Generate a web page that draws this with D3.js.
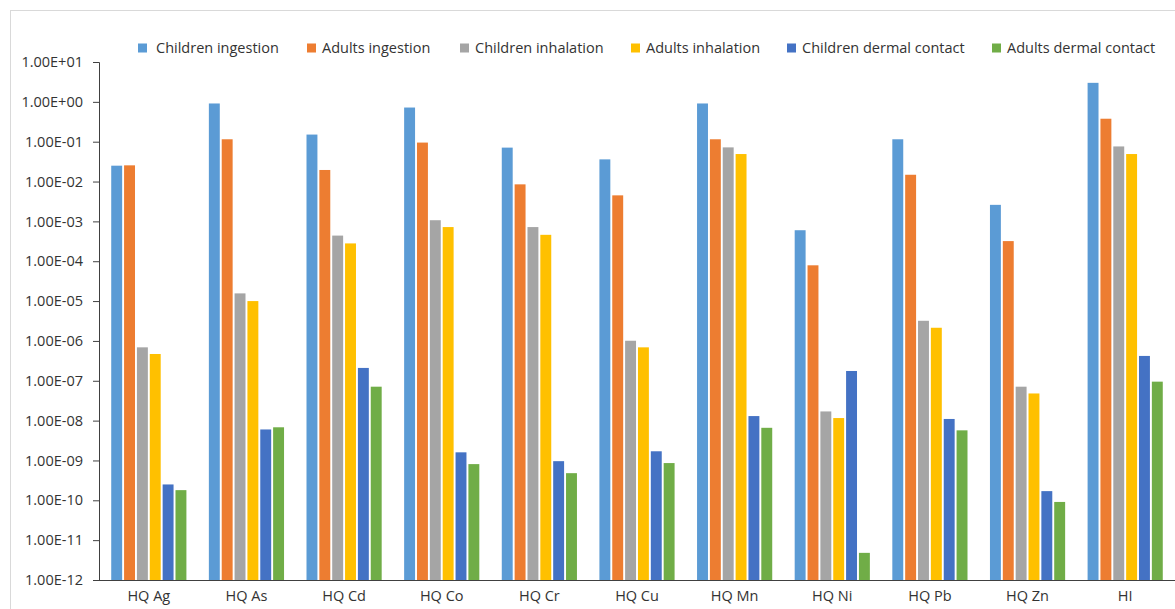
<!DOCTYPE html>
<html>
<head>
<meta charset="utf-8">
<script src="https://cdn.jsdelivr.net/npm/d3@7"></script>
<style>
  body { margin: 0; background: #fff; }
  text { font-family: "Open Sans", "Noto Sans", sans-serif; fill: #333; }
</style>
</head>
<body>
<svg width="1175" height="609"></svg>
<script>
// Categories and series
const categories = ["HQ Ag", "HQ As", "HQ Cd", "HQ Co", "HQ Cr", "HQ Cu", "HQ Mn", "HQ Ni", "HQ Pb", "HQ Zn", "HI"];
const seriesNames = ["Children ingestion", "Adults ingestion", "Children inhalation", "Adults inhalation", "Children dermal contact", "Adults dermal contact"];
const seriesColors = ["#5B9BD5", "#ED7D31", "#A5A5A5", "#FFC000", "#4472C4", "#70AD47"];

const childrenIngestion = [2.5e-2, 0.91, 0.151, 0.72, 0.071, 0.036, 0.91, 6.0e-4, 0.115, 2.6e-3, 3.0];
const adultsIngestion = [2.55e-2, 0.115, 1.95e-2, 0.095, 8.5e-3, 4.5e-3, 0.115, 7.9e-5, 1.48e-2, 3.2e-4, 0.377];
const childrenInhalation = [6.9e-7, 1.56e-5, 4.4e-4, 1.07e-3, 7.2e-4, 1.01e-6, 0.072, 1.7e-8, 3.2e-6, 7.1e-8, 0.076];
const adultsInhalation = [4.7e-7, 1.0e-5, 2.8e-4, 7.2e-4, 4.6e-4, 6.9e-7, 0.049, 1.16e-8, 2.14e-6, 4.8e-8, 0.049];
const childrenDermal = [2.5e-10, 6.0e-9, 2.1e-7, 1.6e-9, 9.6e-10, 1.7e-9, 1.3e-8, 1.76e-7, 1.1e-8, 1.7e-10, 4.2e-7];
const adultsDermal = [1.8e-10, 6.8e-9, 7.1e-8, 8.1e-10, 4.8e-10, 8.6e-10, 6.6e-9, 4.8e-12, 5.7e-9, 9.1e-11, 9.5e-8];

const yTicks = [1e1, 1e0, 1e-1, 1e-2, 1e-3, 1e-4, 1e-5, 1e-6, 1e-7, 1e-8, 1e-9, 1e-10, 1e-11, 1e-12];
const yTickLabels = ["1.00E+01", "1.00E+00", "1.00E-01", "1.00E-02", "1.00E-03", "1.00E-04", "1.00E-05",
  "1.00E-06", "1.00E-07", "1.00E-08", "1.00E-09", "1.00E-10", "1.00E-11", "1.00E-12"];

const allSeries = [childrenIngestion, adultsIngestion, childrenInhalation, adultsInhalation, childrenDermal, adultsDermal];

const svg = d3.select("svg");
const margin = { top: 62, right: 1, bottom: 29, left: 99 };
const width = 1175 - margin.left - margin.right;
const height = 609 - margin.top - margin.bottom;

// faint chart border
svg.append("rect")
  .attr("x", 10.5).attr("y", 10.5)
  .attr("width", 1175).attr("height", 620)
  .attr("fill", "none").attr("stroke", "#d9d9d9");

const g = svg.append("g").attr("transform", `translate(${margin.left},${margin.top})`);

// Scales
const x0 = d3.scaleBand().domain(categories).range([1, width]).paddingInner(0.23).paddingOuter(0.115);
const x1 = d3.scaleBand().domain(d3.range(seriesNames.length)).range([0, x0.bandwidth()]).paddingInner(0.15);
const y = d3.scaleLog().domain([1e-12, 1e1]).range([height, 0]);

// Bars
const groups = g.selectAll(".group")
  .data(categories)
  .enter().append("g")
  .attr("class", "group")
  .attr("transform", d => `translate(${x0(d)},0)`);

groups.selectAll("rect")
  .data((c, i) => allSeries.map((s, k) => ({ k, value: s[i] })))
  .enter().append("rect")
  .attr("x", d => x1(d.k))
  .attr("y", d => y(d.value))
  .attr("width", x1.bandwidth())
  .attr("height", d => height - y(d.value))
  .attr("fill", d => seriesColors[d.k]);

// Y axis
const yAxis = g.append("g")
  .call(d3.axisLeft(y).tickValues(yTicks).tickFormat((d, i) => yTickLabels[i]).tickSize(6).tickPadding(10));
yAxis.select(".domain").attr("stroke", "#404040");
yAxis.selectAll(".tick line").attr("stroke", "#404040");
yAxis.selectAll("text").style("font-size", "14.5px").attr("fill", "#333");

// X axis
const xAxis = g.append("g")
  .attr("transform", `translate(0,${height})`)
  .call(d3.axisBottom(x0).tickSize(0).tickPadding(11));
xAxis.select(".domain").attr("stroke", "#404040").attr("d", `M0,0.5H${width + 5}`);
xAxis.selectAll("text").style("font-size", "14.5px").attr("fill", "#333");

// Legend
const legendX = [138, 307, 460, 631, 787, 992];
const legend = svg.append("g").attr("class", "legend");
seriesNames.forEach((name, i) => {
  const item = legend.append("g").attr("transform", `translate(${legendX[i]},48)`);
  item.append("rect").attr("x", 0).attr("y", -4.5).attr("width", 9).attr("height", 9).attr("fill", seriesColors[i]);
  item.append("text").attr("x", i === 0 ? 18 : 15).attr("y", 0).attr("dy", "0.35em")
    .style("font-size", "14.5px").text(name);
});
</script>
</body>
</html>
